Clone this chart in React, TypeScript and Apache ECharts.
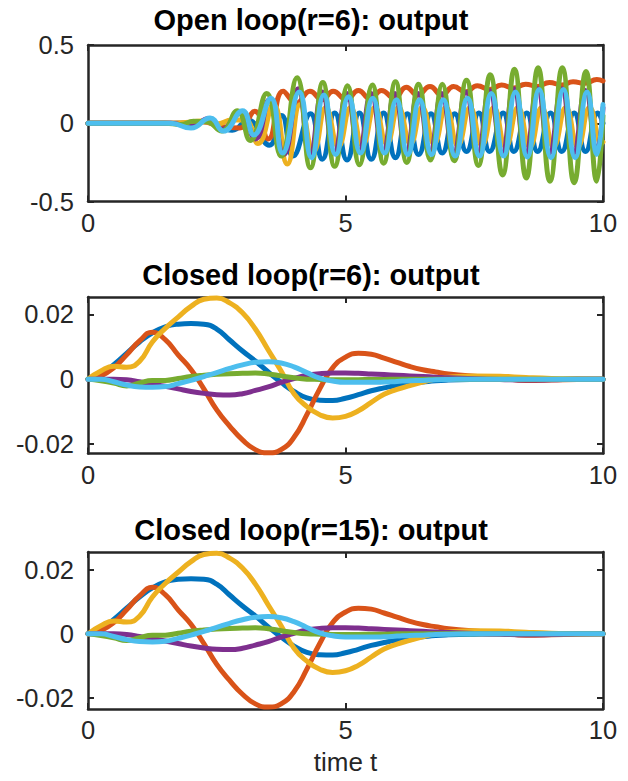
import React, { useEffect, useRef } from "react";
import * as echarts from "echarts";

// ---------- Data ----------
const COLORS = ["#0072BD", "#D95319", "#EDB120", "#7E2F8E", "#77AC30", "#4DBEEE"];
const SERIES_NAMES = ["y1", "y2", "y3", "y4", "y5", "y6"];

const TITLES = ["Open loop(r=6): output", "Closed loop(r=6): output", "Closed loop(r=15): output"];
const X_LABEL = "time t";
const X_TICKS = [0, 5, 10];
const Y_TICKS_OPEN = [-0.5, 0, 0.5];
const Y_TICKS_CLOSED = [-0.02, 0, 0.02];

// Open loop: [t, value] samples read at the wave extremes
const OL_BLUE: [number, number][] = [
  [0, 0], [1.8, 0], [2.3, 0.012], [2.8, -0.045], [3.1, 0.02], [3.52, -0.14], [3.76, 0.05], [3.98, -0.21],
  [4.32, 0.06], [4.55, -0.23], [4.79, 0.065], [5.03, -0.235], [5.27, 0.065], [5.5, -0.23], [5.74, 0.065],
  [5.97, -0.22], [6.2, 0.06], [6.42, -0.2], [6.66, 0.06], [6.88, -0.19], [7.12, 0.06], [7.35, -0.18],
  [7.59, 0.065], [7.8, -0.18], [8.06, 0.066], [8.27, -0.18], [8.52, 0.066], [8.73, -0.18], [8.98, 0.066],
  [9.2, -0.18], [9.44, 0.066], [9.66, -0.18], [9.9, 0.066], [10, 0.0],
];
const OL_ORANGE: [number, number][] = [
  [0, 0], [1.8, 0], [2.2, 0.01], [2.6, -0.02], [2.95, -0.03], [3.24, 0.077], [3.5, -0.1], [3.79, 0.205],
  [4.05, 0.13], [4.31, 0.205], [4.55, 0.15], [4.76, 0.205], [5.02, 0.15], [5.25, 0.21], [5.48, 0.155],
  [5.7, 0.21], [5.95, 0.16], [6.18, 0.23], [6.4, 0.18], [6.64, 0.235], [6.87, 0.18], [7.1, 0.235],
  [7.33, 0.2], [7.56, 0.24], [7.8, 0.215], [8.03, 0.245], [8.26, 0.225], [8.5, 0.25], [8.72, 0.235],
  [8.96, 0.26], [9.2, 0.245], [9.42, 0.265], [9.65, 0.255], [9.88, 0.28], [10, 0.27],
];
const OL_YELLOW: [number, number][] = [
  [0, 0], [1.5, 0], [1.9, 0.005], [2.2, 0.015], [2.5, -0.005], [2.8, 0.02], [3.05, 0.02], [3.3, -0.13],
  [3.6, 0.12], [3.87, -0.26], [4.12, 0.12], [4.38, -0.18], [4.62, 0.1], [4.86, -0.15], [5.1, 0.1],
  [5.33, -0.14], [5.57, 0.1], [5.8, -0.13], [6.03, 0.1], [6.26, -0.13], [6.49, 0.1], [6.72, -0.13],
  [6.95, 0.1], [7.18, -0.14], [7.42, 0.1], [7.65, -0.14], [7.88, 0.1], [8.11, -0.15], [8.35, 0.1],
  [8.58, -0.15], [8.81, 0.1], [9.04, -0.15], [9.28, 0.1], [9.51, -0.15], [9.74, 0.1], [9.97, -0.13], [10, -0.12],
];
const OL_PURPLE: [number, number][] = [
  [0, 0], [1.6, 0], [2.0, -0.02], [2.35, 0.03], [2.6, -0.04], [2.95, 0.07], [3.25, -0.1], [3.52, 0.15],
  [3.8, -0.2], [4.08, 0.22], [4.31, -0.21], [4.55, 0.2], [4.78, -0.19], [5.03, 0.19], [5.26, -0.18],
  [5.5, 0.19], [5.73, -0.18], [5.96, 0.19], [6.18, -0.18], [6.41, 0.19], [6.64, -0.18], [6.87, 0.19],
  [7.1, -0.19], [7.34, 0.2], [7.57, -0.19], [7.8, 0.21], [8.04, -0.19], [8.27, 0.22], [8.5, -0.19],
  [8.73, 0.22], [8.96, -0.19], [9.2, 0.22], [9.43, -0.19], [9.66, 0.21], [9.88, -0.18], [10, 0.1],
];
const OL_GREEN: [number, number][] = [
  [0, 0], [1.5, 0], [1.8, -0.008], [2.05, 0.012], [2.3, 0.01], [2.6, -0.05], [2.9, 0.08], [3.15, -0.11],
  [3.47, 0.19], [3.75, -0.21], [4.06, 0.29], [4.32, -0.285], [4.56, 0.26], [4.79, -0.275], [5.04, 0.24],
  [5.27, -0.265], [5.52, 0.245], [5.74, -0.255], [5.97, 0.265], [6.19, -0.25], [6.42, 0.25], [6.65, -0.235],
  [6.88, 0.25], [7.11, -0.24], [7.35, 0.275], [7.58, -0.27], [7.81, 0.31], [8.05, -0.33], [8.28, 0.345],
  [8.51, -0.35], [8.74, 0.355], [8.97, -0.37], [9.21, 0.355], [9.44, -0.38], [9.67, 0.33], [9.88, -0.37], [10, 0.05],
];
const OL_LIGHTBLUE: [number, number][] = [
  [0, 0], [1.6, 0], [2.0, -0.03], [2.37, 0.034], [2.63, -0.05], [3.0, 0.08], [3.22, -0.075], [3.55, 0.16],
  [3.78, -0.19], [4.1, 0.2], [4.34, -0.22], [4.58, 0.18], [4.81, -0.2], [5.06, 0.17], [5.29, -0.19],
  [5.53, 0.16], [5.76, -0.19], [5.99, 0.15], [6.21, -0.2], [6.44, 0.15], [6.67, -0.2], [6.9, 0.15],
  [7.13, -0.21], [7.37, 0.16], [7.6, -0.21], [7.83, 0.19], [8.07, -0.21], [8.3, 0.2], [8.53, -0.215],
  [8.76, 0.215], [8.99, -0.22], [9.23, 0.215], [9.46, -0.22], [9.69, 0.2], [9.88, -0.2], [10, 0.12],
];

// Closed loop: common time grid
const T_CL = [0, 0.25, 0.5, 0.75, 1, 1.25, 1.5, 1.75, 2, 2.25, 2.5, 2.75, 3, 3.25, 3.5, 3.75, 4, 4.25, 4.5,
  4.75, 5, 5.25, 5.5, 5.75, 6, 6.25, 6.5, 6.75, 7, 7.5, 8, 8.5, 9, 9.5, 10];
const CL_BLUE = [0, 0.0015, 0.0045, 0.008, 0.0115, 0.0143, 0.0162, 0.017, 0.0172, 0.017, 0.0155, 0.0121,
  0.0087, 0.0056, 0.0022, -0.001, -0.0038, -0.0058, -0.0065, -0.0066, -0.0059, -0.0048, -0.0036, -0.0027,
  -0.0019, -0.0013, -0.0009, -0.0005, -0.0003, -0.0001, 0, 0, 0, 0, 0];
const CL_ORANGE = [0, 0.001, 0.0035, 0.0075, 0.0118, 0.0145, 0.0122, 0.0075, 0.003, -0.003, -0.0095, -0.0145,
  -0.0188, -0.0218, -0.0228, -0.0218, -0.018, -0.011, -0.003, 0.0035, 0.0068, 0.008, 0.0077, 0.0065, 0.0052,
  0.0039, 0.0029, 0.0022, 0.0016, 0.0009, 0.0004, -0.0004, -0.0003, -0.0001, 0];
const CL_YELLOW = [0, 0.0025, 0.004, 0.0037, 0.0055, 0.0115, 0.0157, 0.0192, 0.0225, 0.0247, 0.0251, 0.0236,
  0.0205, 0.0155, 0.009, 0.0025, -0.0045, -0.0085, -0.011, -0.012, -0.0115, -0.0098, -0.0072, -0.0047,
  -0.0032, -0.002, -0.0009, 0, 0.0006, 0.001, 0.0009, 0.0005, 0.0002, 0.0001, 0];
const CL_PURPLE = [0, 0, 0, -0.0002, -0.0008, -0.0015, -0.0022, -0.003, -0.0038, -0.0044, -0.0048, -0.0049,
  -0.0045, -0.0035, -0.0024, -0.001, 0.0002, 0.0012, 0.0017, 0.0019, 0.0019, 0.0018, 0.0016, 0.0014, 0.0012,
  0.001, 0.0008, 0.0006, 0.0004, 0.0001, -0.0001, -0.0003, -0.0002, 0, 0];
const CL_GREEN = [0, -0.0005, -0.0012, -0.0021, -0.0012, -0.0004, -0.0004, 0.0002, 0.0008, 0.0012, 0.0015,
  0.0017, 0.0018, 0.0019, 0.0016, 0.001, 0.0004, 0, -0.0001, -0.0002, -0.0002, -0.0002, -0.0001, -0.0001,
  0, 0, 0, 0, 0, 0, 0, 0, 0, 0, 0];
const CL_LIGHTBLUE = [0, 0, -0.0008, -0.0018, -0.0024, -0.0025, -0.0023, -0.0014, -0.0004, 0.0008, 0.002,
  0.0033, 0.0044, 0.0052, 0.0054, 0.005, 0.0038, 0.002, 0.0003, -0.0006, -0.001, -0.001, -0.001, -0.0009,
  -0.0007, -0.0005, -0.0004, -0.0002, -0.0001, 0, 0, 0, 0, 0, 0];

// r=15 closed loop (visually identical to r=6)
const CL15_BLUE = CL_BLUE;
const CL15_ORANGE = CL_ORANGE;
const CL15_YELLOW = CL_YELLOW;
const CL15_PURPLE = CL_PURPLE;
const CL15_GREEN = CL_GREEN;
const CL15_LIGHTBLUE = CL_LIGHTBLUE;

// ---------- Layout / style ----------
const FONT = "'Liberation Sans', Arial, Helvetica, sans-serif";
const AXIS_COLOR = "#262626";
const GRIDS = [
  { top: 45, height: 156.5, ymin: -0.5, ymax: 0.5, ticks: Y_TICKS_OPEN },
  { top: 297, height: 156.5, ymin: -0.023, ymax: 0.0254, ticks: Y_TICKS_CLOSED },
  { top: 552, height: 157, ymin: -0.0234, ymax: 0.0255, ticks: Y_TICKS_CLOSED },
];
const LEFT = 88;
const WIDTH = 515;

function App() {
  const ref = useRef<HTMLDivElement>(null);

  useEffect(() => {
    if (!ref.current) return;
    const chart = echarts.init(ref.current, null, { renderer: "svg" });

    const grid = GRIDS.map((g) => ({ left: LEFT, top: g.top, width: WIDTH, height: g.height }));

    const xAxis: any[] = [];
    const yAxis: any[] = [];
    GRIDS.forEach((g, i) => {
      const lineStyle = { color: AXIS_COLOR, width: 2.5 };
      const tickStyle = { color: AXIS_COLOR, width: 2 };
      xAxis.push({
        type: "value", gridIndex: i, min: 0, max: 10, position: "bottom",
        axisLine: { show: true, onZero: false, lineStyle },
        axisTick: { show: true, inside: true, length: 6, lineStyle: tickStyle, customValues: X_TICKS },
        axisLabel: { show: true, customValues: X_TICKS, color: AXIS_COLOR, fontSize: 25.5, fontFamily: FONT, margin: 8 },
        splitLine: { show: false },
      });
      xAxis.push({
        type: "value", gridIndex: i, min: 0, max: 10, position: "top",
        axisLine: { show: true, onZero: false, lineStyle },
        axisTick: { show: true, inside: true, length: 6, lineStyle: tickStyle, customValues: X_TICKS },
        axisLabel: { show: false },
        splitLine: { show: false },
      });
      yAxis.push({
        type: "value", gridIndex: i, min: g.ymin, max: g.ymax, position: "left",
        axisLine: { show: true, onZero: false, lineStyle },
        axisTick: { show: true, inside: true, length: 6, lineStyle: tickStyle, customValues: g.ticks },
        axisLabel: {
          show: true, customValues: g.ticks, color: AXIS_COLOR, fontSize: 25.5, fontFamily: FONT, margin: 14,
          formatter: (v: number) => (v === 0 ? "0" : String(v)),
        },
        splitLine: { show: false },
      });
      yAxis.push({
        type: "value", gridIndex: i, min: g.ymin, max: g.ymax, position: "right",
        axisLine: { show: true, onZero: false, lineStyle },
        axisTick: { show: true, inside: true, length: 6, lineStyle: tickStyle, customValues: g.ticks },
        axisLabel: { show: false },
        splitLine: { show: false },
      });
    });

    const line = (name: string, data: any[], gi: number, color: string) => ({
      name, type: "line", data,
      xAxisIndex: gi * 2, yAxisIndex: gi * 2,
      showSymbol: false, symbol: "none", smooth: true, silent: true,
      lineStyle: { color, width: 5, cap: "round", join: "round" },
      itemStyle: { color },
    });

    const openSets = [OL_BLUE, OL_ORANGE, OL_YELLOW, OL_PURPLE, OL_GREEN, OL_LIGHTBLUE];
    const cl6 = [CL_BLUE, CL_ORANGE, CL_YELLOW, CL_PURPLE, CL_GREEN, CL_LIGHTBLUE];
    const cl15 = [CL15_BLUE, CL15_ORANGE, CL15_YELLOW, CL15_PURPLE, CL15_GREEN, CL15_LIGHTBLUE];

    const series: any[] = [];
    openSets.forEach((d, k) => series.push(line(SERIES_NAMES[k], d, 0, COLORS[k])));
    cl6.forEach((arr, k) => series.push(line(SERIES_NAMES[k], T_CL.map((t, j) => [t, arr[j]]), 1, COLORS[k])));
    cl15.forEach((arr, k) => series.push(line(SERIES_NAMES[k], T_CL.map((t, j) => [t, arr[j]]), 2, COLORS[k])));

    const titleY = [20, 275, 530];
    const graphic: any[] = TITLES.map((txt, i) => ({
      type: "text", x: 311, y: titleY[i], silent: true,
      style: { text: txt, fill: "#000", font: `bold 29px ${FONT}`, textAlign: "center", textVerticalAlign: "middle" },
    }));
    graphic.push({
      type: "text", x: 345.5, y: 762, silent: true,
      style: { text: X_LABEL, fill: AXIS_COLOR, font: `26px ${FONT}`, textAlign: "center", textVerticalAlign: "middle" },
    });

    chart.setOption({
      animation: false,
      backgroundColor: "#ffffff",
      grid, xAxis, yAxis, series, graphic,
    });

    return () => chart.dispose();
  }, []);

  return (
    <div
      ref={ref}
      style={{ position: "fixed", left: 0, top: 0, width: 628, height: 781, background: "#fff" }}
    />
  );
}

export default App;
